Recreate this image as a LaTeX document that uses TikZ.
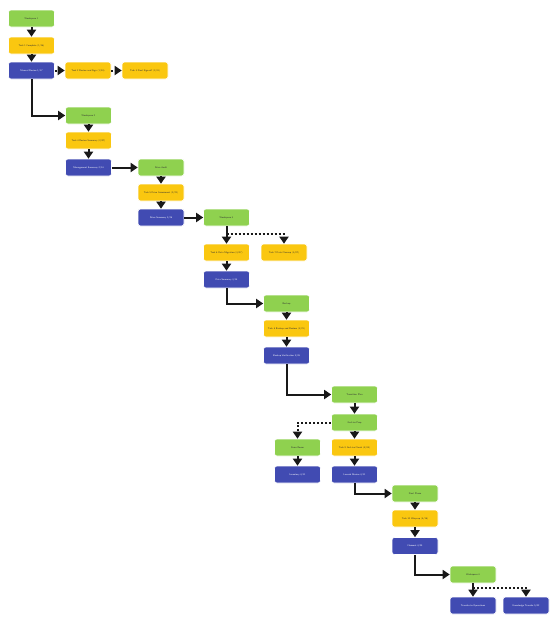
\documentclass[tikz,border=0pt]{standalone}
\usetikzlibrary{arrows.meta}
\definecolor{gfill}{HTML}{8FD14F}
\definecolor{yfill}{HTML}{FAC710}
\definecolor{bfill}{HTML}{414BB2}
\tikzset{
  box/.style={rounded corners=2.5pt, minimum width=46pt, text width=43pt, align=center, minimum height=17pt, inner sep=1pt, font=\sffamily\fontsize{2.4}{2.8}\selectfont, draw=white, line width=0.6pt},
  gbox/.style={box, fill=gfill, text=black!80},
  ybox/.style={box, fill=yfill, text=black!80},
  bbox/.style={box, fill=bfill, text=white},
  conn/.style={line width=2pt, draw=black!90, -{Triangle[width=9pt,length=7pt]}},
  dconn/.style={line width=2pt, draw=black!90, dotted, -{Triangle[width=9pt,length=7pt]}},
}
\begin{document}
\begin{tikzpicture}[x=1pt,y=-1pt]
\useasboundingbox (0,0) rectangle (553,621);
% column 1
\node[gbox] (g1) at (31.5,18.5) {Workspace 1};
\node[ybox] (y1) at (31.5,45.5) {Task 1 Complete (1/16)};
\node[bbox] (b1) at (31.5,70.5) {Manual Review 1/17};
\node[ybox] (y2) at (88,70.5) {Task 2 Review and Sign (1/24)};
\node[ybox] (y3) at (145,70.5) {Task 3 Final Sign-off (1/31)};
% column 2
\node[gbox] (g2) at (88.5,115.5) {Workspace 2};
\node[ybox] (y4) at (88.5,140.5) {Task 4 Review Summary (2/07)};
\node[bbox] (b2) at (88.5,167.5) {Management Summary 2/14};
% column 3
\node[gbox] (g3) at (161,167.5) {Drive Audit};
\node[ybox] (y5) at (161,192.5) {Task 5 Drive Assessment (2/21)};
\node[bbox] (b3) at (161,217.5) {Drive Summary 2/28};
% column 4
\node[gbox] (g4) at (226.5,217.5) {Workspace 3};
\node[ybox] (y6) at (226.5,252.5) {Task 6 Data Migration (3/07)};
\node[ybox] (y7) at (284,252.5) {Task 7 Data Cleanup (3/07)};
\node[bbox] (b4) at (226.5,279.5) {Data Summary 3/14};
% column 5
\node[gbox] (g5) at (286.5,303.5) {Backup};
\node[ybox] (y8) at (286.5,328.5) {Task 8 Backup and Restore (3/21)};
\node[bbox] (b5) at (286.5,355.5) {Backup Verification 3/28};
% column 6
\node[gbox] (g6) at (354.5,394.5) {Transition Plan};
\node[gbox] (g7) at (354.5,422.5) {Go-Live Prep};
\node[gbox] (g8) at (297.5,447.5) {Store Room};
\node[ybox] (y9) at (354.5,447.5) {Task 9 Go-Live Check (4/04)};
\node[bbox] (b6) at (297.5,474.5) {Inventory 4/11};
\node[bbox] (b7) at (354.5,474.5) {Launch Review 4/11};
% column 7
\node[gbox] (g9) at (415,493.5) {Final Phase};
\node[ybox] (y10) at (415,518.5) {Task 10 Wrap-up (4/18)};
\node[bbox] (b8) at (415,546) {Closeout 4/25};
% column 8
\node[gbox] (g10) at (473,574.5) {Workspace 4};
\node[bbox] (b9) at (473,605.5) {Transfer to Operations};
\node[bbox] (b10) at (526,605.5) {Knowledge Transfer 5/02};
% connectors
\draw[conn] (g1) -- (y1);
\draw[conn] (y1) -- (b1);
\draw[dconn] (b1) -- (y2);
\draw[dconn] (y2) -- (y3);
\draw[conn] (b1.south) |- (g2.west);
\draw[conn] (g2) -- (y4);
\draw[conn] (y4) -- (b2);
\draw[conn] (b2) -- (g3);
\draw[conn] (g3) -- (y5);
\draw[conn] (y5) -- (b3);
\draw[conn] (b3) -- (g4);
\draw[conn] (g4) -- (y6);
\draw[dconn] ([yshift=-8pt]g4.south) -| (y7.north);
\draw[conn] (y6) -- (b4);
\draw[conn] (b4.south) |- (g5.west);
\draw[conn] (g5) -- (y8);
\draw[conn] (y8) -- (b5);
\draw[conn] (b5.south) |- (g6.west);
\draw[conn] (g6) -- (g7);
\draw[conn] (g7) -- (y9);
\draw[dconn] (g7.west) -| (g8.north);
\draw[conn] (g8) -- (b6);
\draw[conn] (y9) -- (b7);
\draw[conn] (b7.south) |- (g9.west);
\draw[conn] (g9) -- (y10);
\draw[conn] (y10) -- (b8);
\draw[conn] (b8.south) |- (g10.west);
\draw[conn] (g10) -- (b9);
\draw[dconn] ([yshift=-5pt]g10.south) -| (b10.north);
\end{tikzpicture}
\end{document}
